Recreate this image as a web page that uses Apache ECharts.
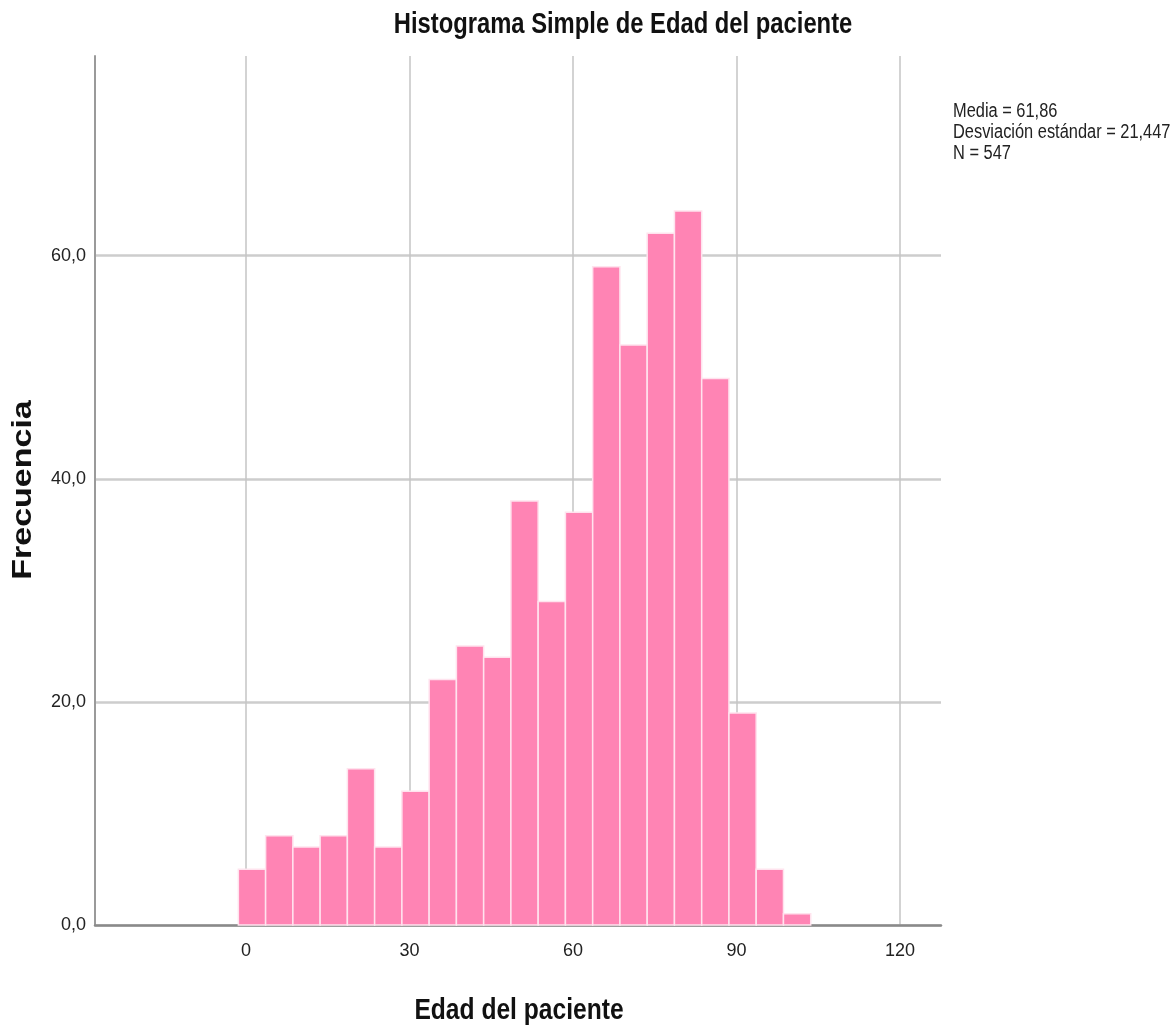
<!DOCTYPE html>
<html>
<head>
<meta charset="utf-8">
<script src="https://cdn.jsdelivr.net/npm/echarts@6/dist/echarts.min.js"></script>
<style>
html,body{margin:0;padding:0;background:#fff;}
#chart{width:1176px;height:1033px;}
</style>
</head>
<body>
<div id="chart"></div>
<script>
// Histogram data (Edad del paciente)
const binStart = -1.4;       // lower edge of first bin
const binWidth = 5;          // years per bin
const counts = [5, 8, 7, 8, 14, 7, 12, 22, 25, 24, 38, 29, 37, 59, 52, 62, 64, 49, 19, 5, 1];
const xTicks = [0, 30, 60, 90, 120];
const yTicks = [0, 20, 40, 60];
const titleText = 'Histograma Simple de Edad del paciente';
const xName = 'Edad del paciente';
const yName = 'Frecuencia';
const statsLines = ['Media = 61,86', 'Desviación estándar = 21,447', 'N = 547'];

const bins = counts.map((c, i) => [binStart + i * binWidth, binStart + (i + 1) * binWidth, c]);

const sans = '"Liberation Sans", Arial, sans-serif';
const chart = echarts.init(document.getElementById('chart'), null, {renderer: 'canvas'});

chart.setOption({
  animation: false,
  backgroundColor: '#ffffff',
  grid: {left: 95, right: 235, top: 56, bottom: 108, containLabel: false},
  xAxis: {
    type: 'value',
    min: -27.7,
    max: 127.5,
    axisLine: {show: true, onZero: false, lineStyle: {color: '#8a8a8a', width: 2.5}},
    axisTick: {show: false, customValues: xTicks},
    axisLabel: {customValues: xTicks, fontFamily: sans, fontSize: 18, color: '#222', margin: 17,
      formatter: v => String(v)},
    splitLine: {show: true, lineStyle: {color: '#c4c4c4', width: 1.5}}
  },
  yAxis: {
    type: 'value',
    min: 0,
    max: 77.9,
    interval: 20,
    axisLine: {show: true, onZero: false, lineStyle: {color: '#9a9a9a', width: 2}},
    axisTick: {show: false, customValues: yTicks},
    axisLabel: {customValues: yTicks, fontFamily: sans, fontSize: 18, color: '#222', margin: 9,
      formatter: v => v.toFixed(1).replace('.', ',')},
    splitLine: {show: true, lineStyle: {color: '#cdcdcd', width: 2.5}}
  },
  graphic: [
    {type: 'text', x: 623, y: 10, scaleX: 0.82,
      style: {text: titleText, fontFamily: sans, fontWeight: 'bold', fontSize: 29, fill: '#111',
        textAlign: 'center', textVerticalAlign: 'top'}},
    {type: 'text', x: 953, y: 101, scaleX: 0.82,
      style: {text: statsLines.join('\n'), fontFamily: sans, fontSize: 20, lineHeight: 21, fill: '#222',
        textAlign: 'left', textVerticalAlign: 'top'}},
    {type: 'text', x: 519, y: 996, scaleX: 0.82,
      style: {text: xName, fontFamily: sans, fontWeight: 'bold', fontSize: 30, fill: '#111',
        textAlign: 'center', textVerticalAlign: 'top'}},
    {type: 'text', x: 23, y: 490, rotation: Math.PI / 2, scaleY: 0.8,
      style: {text: yName, fontFamily: sans, fontWeight: 'bold', fontSize: 34, fill: '#111',
        textAlign: 'center', textVerticalAlign: 'middle'}}
  ],
  series: [{
    type: 'custom',
    data: bins,
    encode: {x: [0, 1], y: 2},
    renderItem: function (params, api) {
      const p0 = api.coord([api.value(0), api.value(2)]);
      const p1 = api.coord([api.value(1), 0]);
      return {
        type: 'rect',
        shape: {x: p0[0], y: p0[1], width: p1[0] - p0[0], height: p1[1] - p0[1]},
        style: {fill: '#ff84b4', stroke: '#ffe3ee', lineWidth: 1.5}
      };
    }
  }]
});
</script>
</body>
</html>
